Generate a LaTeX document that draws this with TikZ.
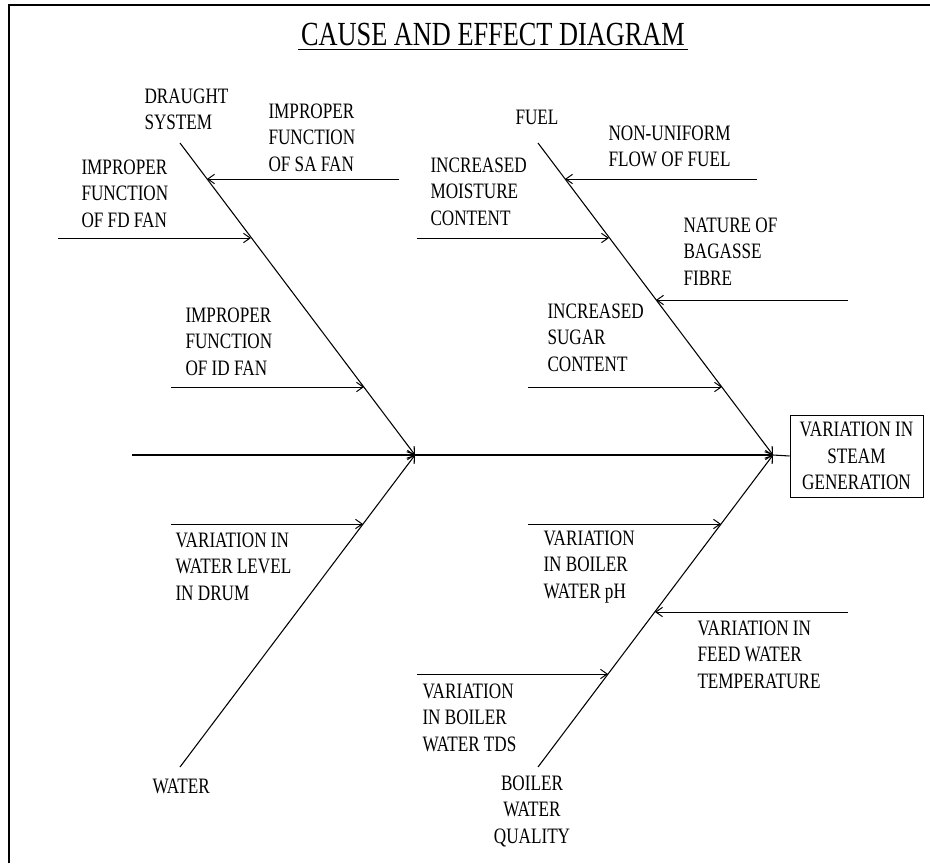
\documentclass[tikz,border=0pt]{standalone}
\usepackage{fontspec}
\setmainfont{Liberation Serif}[FakeStretch=0.78]
\usetikzlibrary{arrows.meta}

\begin{document}
\begin{tikzpicture}[x=0.75pt,y=-0.75pt,line width=0.75pt,
  >={Straight Barb[length=5pt,width=7pt]},
  cause/.style={anchor=north west,inner sep=0pt,align=left,font=\fontsize{16.5}{20}\selectfont},
  bone/.style={->,line width=0.8pt}]
\useasboundingbox (0,0) rectangle (930,863);
\draw[line width=1.5pt] (9,863)--(9,5)--(930,5);
% title
\node [name=title,inner sep=0pt,anchor=north,font=\fontsize{25.3}{30}\selectfont] at (493,23){CAUSE AND EFFECT DIAGRAM};
\draw ([yshift=-2.5pt,xshift=-2pt]title.base west)--([yshift=-2.5pt,xshift=2pt]title.base east);
% effect
\node [draw,shape=rectangle,name=effect,align=center,inner sep=0pt,minimum width=99.75pt,minimum height=61.5pt,font=\fontsize{16.5}{20}\selectfont] at (856.5,456){VARIATION IN\\STEAM\\GENERATION};
% spine and bones
\coordinate (tail) at (132,455);
\coordinate (jl) at (415,455);
\coordinate (jr) at (773,455);
\coordinate (dtop) at (180,143);
\coordinate (ftop) at (538,143);
\coordinate (wbot) at (180,767);
\coordinate (qbot) at (538,767);
\draw[bone] (tail)--(jl);
\draw[bone] (jl)--(jr);
\draw[line width=0.8pt] (jr)--(effect.west);
\draw[bone] (dtop)--(jl);
\draw[bone] (wbot)--(jl);
\draw[bone] (ftop)--(jr);
\draw[bone] (qbot)--(jr);
% category labels
\node [cause,name=draught] at (144,88){DRAUGHT\\SYSTEM};
\node [cause,name=fuel] at (515,110){FUEL};
\node [cause,name=water] at (152,778){WATER};
\node [cause,name=quality,anchor=north,align=center] at (532,775){BOILER\\WATER\\QUALITY};
% draught system
\node [cause,name=safan] at (268,103){IMPROPER\\FUNCTION\\OF SA FAN};
\node [cause,name=fdfan] at (81,159){IMPROPER\\FUNCTION\\OF FD FAN};
\node [cause,name=idfan] at (185,307){IMPROPER\\FUNCTION\\OF ID FAN};
\coordinate (sa0) at (399,179);
\coordinate (sa1) at (207,179);
\coordinate (fd0) at (58,238);
\coordinate (fd1) at (251,238);
\coordinate (id0) at (171,387);
\coordinate (id1) at (364,387);
\draw[->] (sa0)--(sa1);
\draw[->] (fd0)--(fd1);
\draw[->] (id0)--(id1);
% fuel
\node [cause,name=nonuni] at (608,125){NON-UNIFORM\\FLOW OF FUEL};
\node [cause,name=moist] at (430,157){INCREASED\\MOISTURE\\CONTENT};
\node [cause,name=bagasse] at (683,217){NATURE OF\\BAGASSE\\FIBRE};
\node [cause,name=sugar] at (547,303){INCREASED\\SUGAR\\CONTENT};
\coordinate (nu0) at (757,179);
\coordinate (nu1) at (565,179);
\coordinate (mo0) at (417,238);
\coordinate (mo1) at (609,238);
\coordinate (ba0) at (848,300);
\coordinate (ba1) at (656,300);
\coordinate (su0) at (528,387);
\coordinate (su1) at (722,387);
\draw[->] (nu0)--(nu1);
\draw[->] (mo0)--(mo1);
\draw[->] (ba0)--(ba1);
\draw[->] (su0)--(su1);
% water
\node [cause,name=drum] at (175,532){VARIATION IN\\WATER LEVEL\\IN DRUM};
\coordinate (dr0) at (171,524);
\coordinate (dr1) at (363,524);
\draw[->] (dr0)--(dr1);
% boiler water quality
\node [cause,name=ph] at (543,530){VARIATION\\IN BOILER\\WATER pH};
\node [cause,name=feed] at (697,620){VARIATION IN\\FEED WATER\\TEMPERATURE};
\node [cause,name=tds] at (422,683){VARIATION\\IN BOILER\\WATER TDS};
\coordinate (ph0) at (528,524);
\coordinate (ph1) at (721,524);
\coordinate (fw0) at (848,612);
\coordinate (fw1) at (655,612);
\coordinate (td0) at (417,674);
\coordinate (td1) at (608,674);
\draw[->] (ph0)--(ph1);
\draw[->] (fw0)--(fw1);
\draw[->] (td0)--(td1);
\end{tikzpicture}
\end{document}
